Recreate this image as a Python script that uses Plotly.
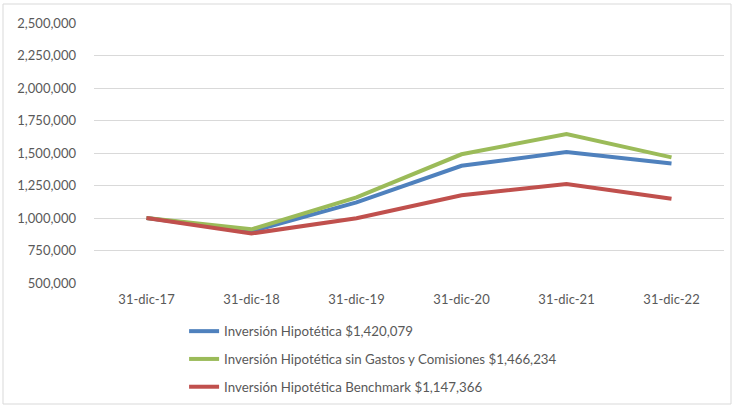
import plotly.graph_objects as go

categories = ["31-dic-17", "31-dic-18", "31-dic-19", "31-dic-20", "31-dic-21", "31-dic-22"]
inv_hipotetica = [1000000, 897000, 1120000, 1402000, 1507000, 1420079]
inv_sin_gastos = [1000000, 913000, 1158000, 1490000, 1646000, 1466234]
inv_benchmark = [1000000, 881000, 998000, 1175000, 1262000, 1147366]
names = [
    "Inversión Hipotética $1,420,079",
    "Inversión Hipotética sin Gastos y Comisiones $1,466,234",
    "Inversión Hipotética Benchmark $1,147,366",
]
colors = ["#4F81BD", "#9BBB59", "#C0504D"]

FONT = "Lato"
W, H = 734, 406
ML, MR, MT, MB = 94, 10, 23, 0
PAPER_H = H - MT - MB
plot_bottom_px = 283
dom_bottom = (H - MB - plot_bottom_px) / PAPER_H
legend_top_px = 316
legend_y = (H - MB - legend_top_px) / PAPER_H

fig = go.Figure()
for i, (vals, name, col) in enumerate(zip([inv_hipotetica, inv_sin_gastos, inv_benchmark], names, colors)):
    fig.add_trace(go.Scatter(x=categories, y=vals, mode="lines", name=name,
                             legendgroup=f"g{i}",
                             line=dict(color=col, width=4)))

fig.update_layout(
    width=W, height=H,
    margin=dict(l=ML, r=MR, t=MT, b=MB, pad=0),
    paper_bgcolor="white", plot_bgcolor="white",
    font=dict(family=FONT, size=13, color="#595959"),
    showlegend=True,
    legend=dict(x=0.143, y=legend_y, xanchor="left", yanchor="top",
                orientation="v", tracegroupgap=7.5, itemwidth=30,
                font=dict(family=FONT, size=13.3, color="#595959"),
                bgcolor="rgba(0,0,0,0)"),
    xaxis=dict(type="category", range=[-0.5, 5.5], showgrid=False,
               showline=False, zeroline=False, ticks="", automargin=False,
               ticklabelstandoff=7, tickfont=dict(size=13)),
    yaxis=dict(domain=[dom_bottom, 1], range=[500000, 2500000], dtick=250000,
               tickformat=",", showgrid=True, gridcolor="#D9D9D9", gridwidth=1,
               zeroline=False, showline=False, ticks="", ticklabelstandoff=17,
               automargin=False, tickfont=dict(size=13)),
    shapes=[dict(type="rect", xref="paper", yref="paper",
                 x0=(3 - ML) / (W - ML - MR), x1=(731 - ML) / (W - ML - MR),
                 y0=(H - MB - 404) / PAPER_H, y1=(H - MB - 4) / PAPER_H,
                 line=dict(color="#D9D9D9", width=1), fillcolor="rgba(0,0,0,0)",
                 layer="below")],
)
fig.write_html("out.html", config={"displayModeBar": False},
               post_script="document.body.style.margin='0px';document.body.style.padding='0px';")
